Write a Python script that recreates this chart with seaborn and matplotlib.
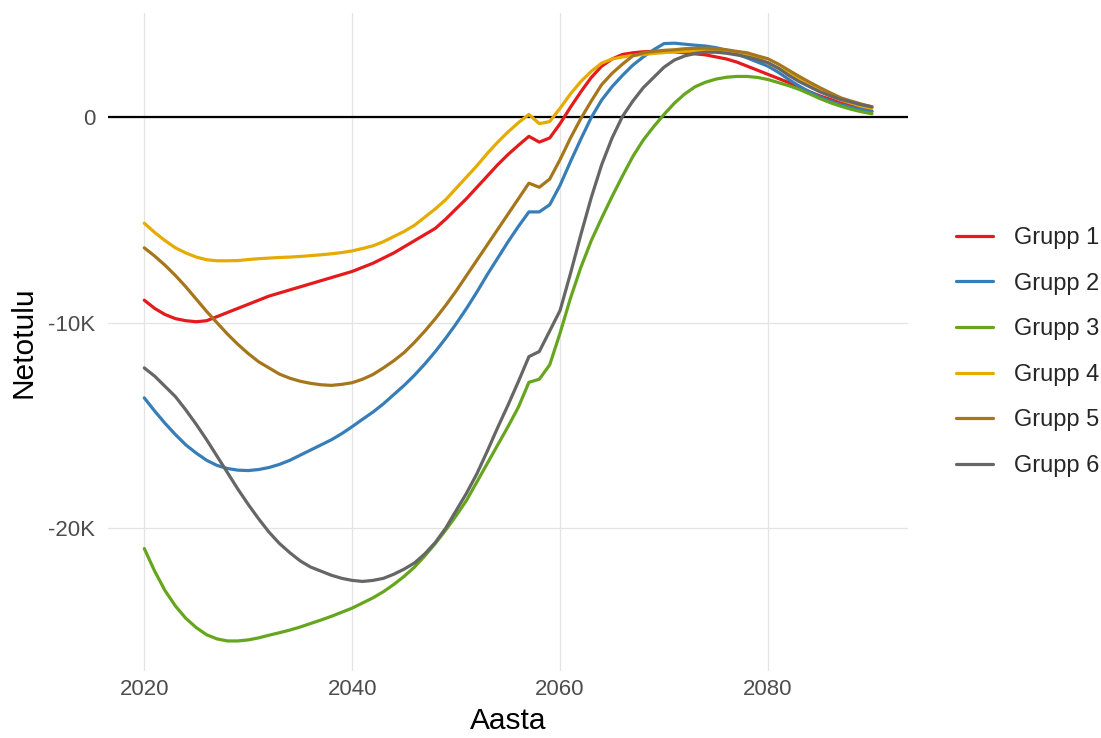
import numpy as np
import pandas as pd
import matplotlib
matplotlib.use("Agg")
import matplotlib.pyplot as plt
from matplotlib.ticker import FuncFormatter, FixedLocator
import seaborn as sns

# ------------------------------------------------------
# Andmed (netotulu tuhandetes, aastad 2020-2090)
# ------------------------------------------------------
years = list(range(2020, 2091))

grupp1 = [-8.9, -9.3, -9.6, -9.8, -9.9, -9.95, -9.9, -9.7, -9.5, -9.3,
          -9.1, -8.9, -8.7, -8.55, -8.4, -8.25, -8.1, -7.95, -7.8, -7.65,
          -7.5, -7.3, -7.1, -6.85, -6.6, -6.3, -6.0, -5.7, -5.4, -4.95,
          -4.45, -3.95, -3.4, -2.85, -2.3, -1.8, -1.35, -0.92, -1.2, -1.0,
          -0.3, 0.5, 1.25, 1.95, 2.5, 2.85, 3.07, 3.15, 3.2, 3.22,
          3.22, 3.2, 3.15, 3.1, 3.05, 2.95, 2.85, 2.7, 2.5, 2.3,
          2.1, 1.9, 1.7, 1.45, 1.25, 1.05, 0.88, 0.72, 0.58, 0.45,
          0.3]

grupp2 = [-13.66, -14.3, -14.9, -15.45, -15.95, -16.35, -16.7, -16.95, -17.1, -17.18,
          -17.2, -17.15, -17.05, -16.9, -16.7, -16.45, -16.2, -15.95, -15.7, -15.4,
          -15.06, -14.7, -14.35, -13.95, -13.5, -13.05, -12.55, -12.0, -11.4, -10.75,
          -10.05, -9.3, -8.5, -7.65, -6.85, -6.05, -5.3, -4.6, -4.6, -4.25,
          -3.3, -2.15, -1.05, 0.0, 0.85, 1.5, 2.05, 2.55, 2.95, 3.3,
          3.6, 3.62, 3.57, 3.52, 3.48, 3.4, 3.28, 3.1, 2.9, 2.7,
          2.5, 2.2, 1.85, 1.53, 1.25, 1.0, 0.8, 0.63, 0.5, 0.4,
          0.3]

grupp3 = [-21.0, -22.1, -23.05, -23.8, -24.4, -24.85, -25.2, -25.4, -25.5, -25.5,
          -25.45, -25.35, -25.22, -25.1, -24.97, -24.82, -24.65, -24.48, -24.3, -24.1,
          -23.9, -23.65, -23.4, -23.1, -22.75, -22.35, -21.9, -21.35, -20.75, -20.1,
          -19.4, -18.65, -17.75, -16.85, -15.95, -15.05, -14.1, -12.9, -12.75, -12.05,
          -10.5, -8.8, -7.3, -6.0, -4.9, -3.85, -2.85, -1.9, -1.1, -0.45,
          0.15, 0.7, 1.15, 1.5, 1.72, 1.87, 1.96, 2.0, 2.0, 1.95,
          1.85, 1.7, 1.55, 1.37, 1.15, 0.92, 0.72, 0.55, 0.4, 0.28,
          0.18]

grupp4 = [-5.15, -5.6, -6.0, -6.35, -6.6, -6.8, -6.93, -6.98, -6.98, -6.97,
          -6.92, -6.88, -6.85, -6.82, -6.8, -6.77, -6.73, -6.69, -6.64, -6.58,
          -6.5, -6.38, -6.25, -6.05, -5.8, -5.55, -5.25, -4.85, -4.45, -4.0,
          -3.45, -2.9, -2.35, -1.75, -1.2, -0.7, -0.25, 0.15, -0.3, -0.2,
          0.45, 1.15, 1.75, 2.25, 2.65, 2.85, 2.95, 3.02, 3.07, 3.12,
          3.16, 3.2, 3.22, 3.25, 3.27, 3.27, 3.25, 3.2, 3.1, 2.9,
          2.65, 2.4, 2.15, 1.85, 1.55, 1.3, 1.05, 0.85, 0.7, 0.55,
          0.45]

grupp5 = [-6.35, -6.75, -7.2, -7.7, -8.25, -8.85, -9.45, -10.0, -10.55, -11.05,
          -11.5, -11.9, -12.2, -12.5, -12.7, -12.85, -12.95, -13.02, -13.05, -13.0,
          -12.92, -12.75, -12.52, -12.2, -11.85, -11.45, -10.95, -10.4, -9.8, -9.15,
          -8.45, -7.7, -6.95, -6.2, -5.45, -4.7, -3.95, -3.2, -3.4, -3.0,
          -2.05, -1.0, -0.05, 0.8, 1.6, 2.15, 2.6, 3.0, 3.15, 3.22,
          3.27, 3.3, 3.35, 3.37, 3.38, 3.35, 3.3, 3.22, 3.15, 3.0,
          2.86, 2.6, 2.3, 2.0, 1.72, 1.45, 1.2, 0.96, 0.8, 0.65,
          0.52]

grupp6 = [-12.2, -12.6, -13.1, -13.6, -14.25, -14.95, -15.7, -16.5, -17.3, -18.1,
          -18.85, -19.55, -20.2, -20.75, -21.2, -21.6, -21.9, -22.1, -22.3, -22.45,
          -22.55, -22.6, -22.55, -22.45, -22.25, -22.0, -21.7, -21.25, -20.7, -20.0,
          -19.15, -18.3, -17.35, -16.25, -15.1, -14.0, -12.85, -11.65, -11.4, -10.4,
          -9.4, -7.6, -5.7, -3.9, -2.3, -1.0, 0.05, 0.8, 1.45, 1.95,
          2.45, 2.8, 3.0, 3.12, 3.18, 3.18, 3.13, 3.05, 2.95, 2.82,
          2.67, 2.4, 2.05, 1.75, 1.5, 1.25, 1.05, 0.88, 0.75, 0.62,
          0.52]

group_names = ["Grupp 1", "Grupp 2", "Grupp 3", "Grupp 4", "Grupp 5", "Grupp 6"]
group_values = [grupp1, grupp2, grupp3, grupp4, grupp5, grupp6]
colors = ["#E41A1C", "#377EB8", "#66A61E", "#E6AB02", "#A6761D", "#666666"]

# pikk tabel seaborni jaoks
rows = []
for name, vals in zip(group_names, group_values):
    for y, v in zip(years, vals):
        rows.append({"Aasta": y, "Netotulu": v * 1000, "Grupp": name})
df = pd.DataFrame(rows)

# ------------------------------------------------------
# Joonis
# ------------------------------------------------------
sns.set_theme(style="whitegrid")
plt.rcParams["font.family"] = ["Liberation Sans", "DejaVu Sans"]

fig = plt.figure(figsize=(11.01, 7.38), dpi=100)
ax = fig.add_axes([0.098, 0.091, 0.727, 0.891])

sns.lineplot(data=df, x="Aasta", y="Netotulu", hue="Grupp",
             hue_order=group_names, palette=colors, linewidth=2.3, ax=ax)
ax.axhline(0, color="black", linewidth=1.6, zorder=1)

ax.margins(x=0.05, y=0.05)
ax.xaxis.set_major_locator(FixedLocator([2020, 2040, 2060, 2080]))
ax.yaxis.set_major_locator(FixedLocator([-20000, -10000, 0]))
ax.yaxis.set_major_formatter(FuncFormatter(
    lambda v, p: "0" if v == 0 else f"{int(v / 1000)}K"))

ax.grid(True, color="#E3E3E3", linewidth=0.9)
for s in ax.spines.values():
    s.set_visible(False)
ax.tick_params(axis="both", length=0, labelsize=16, labelcolor="#4D4D4D")
ax.tick_params(axis="x", pad=6)
ax.tick_params(axis="y", pad=9)

ax.set_xlabel("Aasta", fontsize=21.5, color="black", labelpad=5)
ax.set_ylabel("Netotulu", fontsize=21.5, color="black", labelpad=8)

ax.legend(loc="center left", bbox_to_anchor=(0.868, 0.523),
          bbox_transform=fig.transFigure, frameon=False, title=None,
          fontsize=17, handlelength=1.6, handletextpad=0.85,
          labelspacing=1.0, borderpad=0, borderaxespad=0)

fig.savefig("out.png", dpi=100, facecolor="white")
